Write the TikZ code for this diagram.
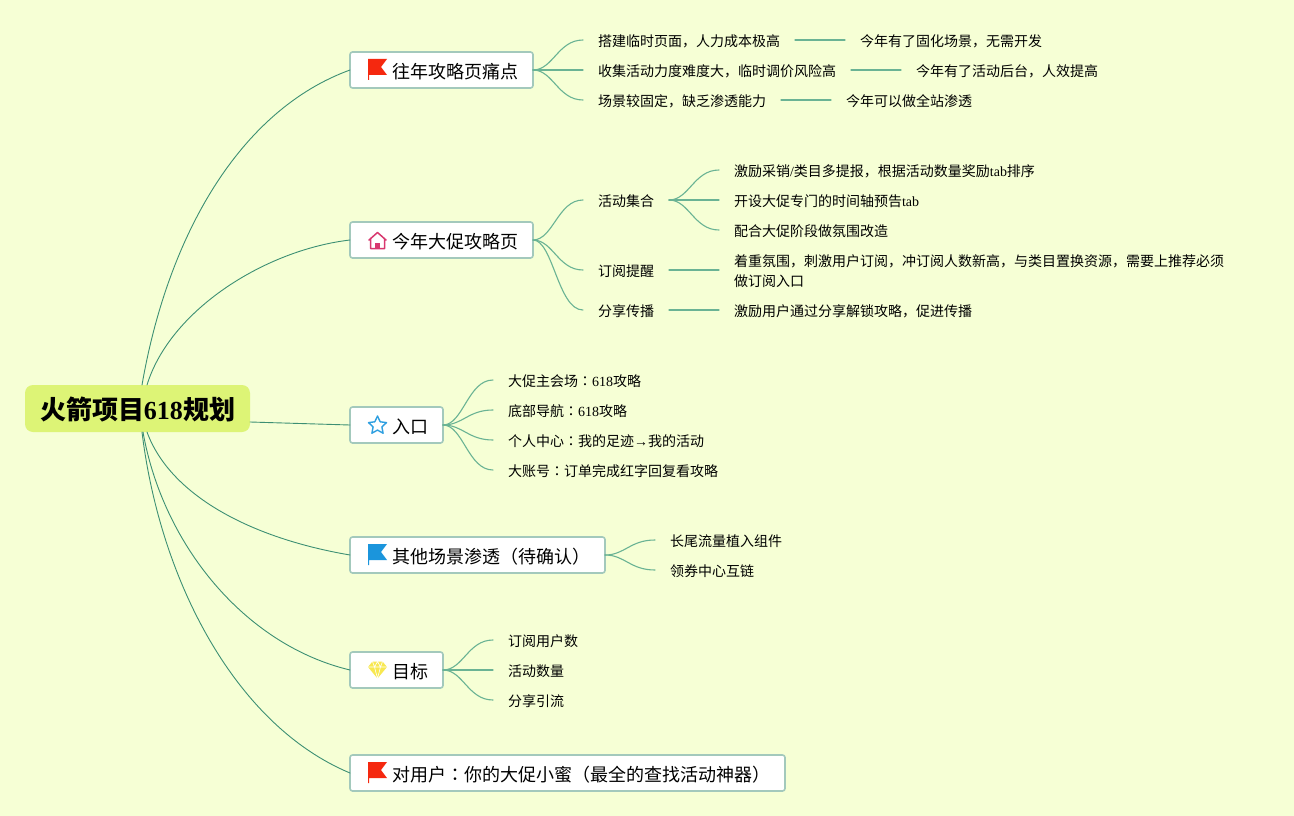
\documentclass[tikz,border=0pt]{standalone}
\usepackage{fontspec}
\setmainfont{Noto Sans CJK SC}
\newfontfamily\latfont{Liberation Serif}
\newfontfamily\colonfont{Noto Sans CJK TC}
\newcommand{\lat}[1]{{\latfont #1}}
\newcommand{\cln}{{\colonfont ：}}
\definecolor{bgyellow}{HTML}{F6FFD5}
\definecolor{rootgreen}{HTML}{DDF476}
\definecolor{boxline}{HTML}{A3C9BC}
\definecolor{branchgreen}{HTML}{6AB394}
\definecolor{rootbranch}{HTML}{3C8F73}
\definecolor{flagred}{HTML}{F5280F}
\definecolor{flagblue}{HTML}{1B95DC}
\definecolor{housepink}{HTML}{D8386F}
\definecolor{starblue}{HTML}{2E9FE0}
\definecolor{gemyellow}{HTML}{F8E850}
\tikzset{
 rootbox/.style={anchor=west,fill=rootgreen,rounded corners=8pt,inner xsep=15pt,inner ysep=0pt,outer sep=0pt,minimum height=47pt,font=\fontsize{26}{30}\selectfont\bfseries,execute at begin node=\rule{0pt}{25pt}},
 topic/.style={anchor=west,fill=white,draw=boxline,line width=1.6pt,rounded corners=2.5pt,inner xsep=15pt,inner ysep=0pt,outer sep=0pt,minimum height=36pt,font=\fontsize{18}{22}\selectfont,execute at begin node=\rule{0pt}{18pt}},
 leaf/.style={anchor=west,inner xsep=15pt,inner ysep=0pt,outer sep=0pt,align=left,font=\fontsize{14}{20}\selectfont,execute at begin node=\rule{0pt}{14.4pt}},
 branch/.style={draw=branchgreen,line width=1.1pt},
 mainbranch/.style={draw=rootbranch,line width=0.9pt},
 flagicon/.pic={\fill[#1] (-9.5,10)--(-9.5,-11)--(9.5,-11)--(3.5,-3)--(9.5,5)--(-8.5,5)--(-8.5,10)--cycle;},
 houseicon/.pic={\draw[#1,line width=1.5pt,line join=round] (-8.5,0)--(0,-7.5)--(8.5,0) (-7,-1)--(-7,8.5)--(7,8.5)--(7,-1); \fill[#1] (-2.5,8.5) rectangle (2.5,3);},
 staricon/.pic={\draw[#1,line width=1.4pt,line join=round] (0,-9.5)--(2.7,-3.7)--(9,-2.9)--(4.4,1.4)--(5.6,7.7)--(0,4.6)--(-5.6,7.7)--(-4.4,1.4)--(-9,-2.9)--(-2.7,-3.7)--cycle;},
 gemicon/.pic={\fill[#1] (-5,-8.5)--(5,-8.5)--(9.5,-3)--(0,8.5)--(-9.5,-3)--cycle;
  \draw[white,line width=0.6pt] (-9.5,-3)--(9.5,-3) (-5,-8.5)--(-3,-3)--(0,8.5)--(3,-3)--(5,-8.5) (-3,-3)--(0,-8.5)--(3,-3);},
}
\begin{document}
\begin{tikzpicture}[x=1pt,y=-1pt,line join=round,line cap=round]
\useasboundingbox (0,0) rectangle (1294,816);
\fill[bgyellow] (0,0) rectangle (1294,816);
\node[rootbox] (root) at (25,408.5) {火箭项目\lat{618}规划};
% topics
\node[topic] (topicPain) at (350,70) {\hspace{27pt}往年攻略页痛点};
\node[topic] (topicGuide) at (350,240) {\hspace{27pt}今年大促攻略页};
\node[topic] (topicEntry) at (350,425) {\hspace{27pt}入口};
\node[topic] (topicScene) at (350,555) {\hspace{27pt}其他场景渗透（待确认）};
\node[topic] (topicGoal) at (350,670) {\hspace{27pt}目标};
\node[topic] (topicUser) at (350,773) {\hspace{27pt}对用户\cln 你的大促小蜜（最全的查找活动神器）};
\pic at (377.5,70) {flagicon=flagred};
\pic at (377.5,240) {houseicon=housepink};
\pic at (377.5,425.5) {staricon=starblue};
\pic at (377.5,555) {flagicon=flagblue};
\pic at (377.5,670) {gemicon=gemyellow};
\pic at (377.5,773) {flagicon=flagred};
% leaves
\node[leaf] (painA) at (583,40) {搭建临时页面，人力成本极高};
\node[leaf] (painB) at (583,70) {收集活动力度难度大，临时调价风险高};
\node[leaf] (painC) at (583,100) {场景较固定，缺乏渗透能力};
\node[leaf] (fixA) at (845,40) {今年有了固化场景，无需开发};
\node[leaf] (fixB) at (901,70) {今年有了活动后台，人效提高};
\node[leaf] (fixC) at (831,100) {今年可以做全站渗透};
\node[leaf] (guideA) at (583,200) {活动集合};
\node[leaf] (guideB) at (583,270) {订阅提醒};
\node[leaf] (guideC) at (583,310) {分享传播};
\node[leaf] (setA) at (719,170) {激励采销\lat{/}类目多提报，根据活动数量奖励\lat{tab}排序};
\node[leaf] (setB) at (719,200) {开设大促专门的时间轴预告\lat{tab}};
\node[leaf] (setC) at (719,230) {配合大促阶段做氛围改造};
\node[leaf] (remind) at (719,271) {着重氛围，刺激用户订阅，冲订阅人数新高，与类目置换资源，需要上推荐必须\\做订阅入口};
\node[leaf] (share) at (719,310) {激励用户通过分享解锁攻略，促进传播};
\node[leaf] (entryA) at (493,380) {大促主会场\cln\lat{618}攻略};
\node[leaf] (entryB) at (493,410) {底部导航\cln\lat{618}攻略};
\node[leaf] (entryC) at (493,440) {个人中心\cln 我的足迹\lat{→}我的活动};
\node[leaf] (entryD) at (493,470) {大账号\cln 订单完成红字回复看攻略};
\node[leaf] (sceneA) at (655,540) {长尾流量植入组件};
\node[leaf] (sceneB) at (655,570) {领券中心互链};
\node[leaf] (goalA) at (493,640) {订阅用户数};
\node[leaf] (goalB) at (493,670) {活动数量};
\node[leaf] (goalC) at (493,700) {分享引流};
% root branches
\draw[mainbranch] ([xshift=4.5pt]root.north) .. controls (168,235) and (240,110) .. (topicPain.west);
\draw[mainbranch] ([xshift=9.5pt]root.north) .. controls (170,310) and (265,250) .. (topicGuide.west);
\draw[mainbranch] ([yshift=-13.5pt]root.east) -- (topicEntry.west);
\draw[mainbranch] ([xshift=9.5pt]root.south) .. controls (170,495) and (250,538) .. (topicScene.west);
\draw[mainbranch] ([xshift=5.5pt]root.south) .. controls (163,545) and (245,645) .. (topicGoal.west);
\draw[mainbranch] ([xshift=4.5pt]root.south) .. controls (160,580) and (235,725) .. (topicUser.west);
% other branches
\foreach \a/\b in {topicPain/painA,topicPain/painB,topicPain/painC,painA/fixA,painB/fixB,painC/fixC,topicGuide/guideA,topicGuide/guideB,topicGuide/guideC,guideA/setA,guideA/setB,guideA/setC,guideC/share,topicEntry/entryA,topicEntry/entryB,topicEntry/entryC,topicEntry/entryD,topicScene/sceneA,topicScene/sceneB,topicGoal/goalA,topicGoal/goalB,topicGoal/goalC}{\draw[branch] (\a.east) .. controls +(20,0) and +(-25,0) .. (\b.west);}
\draw[branch] (guideB.east) -- ([yshift=1pt]remind.west);
\end{tikzpicture}
\end{document}
